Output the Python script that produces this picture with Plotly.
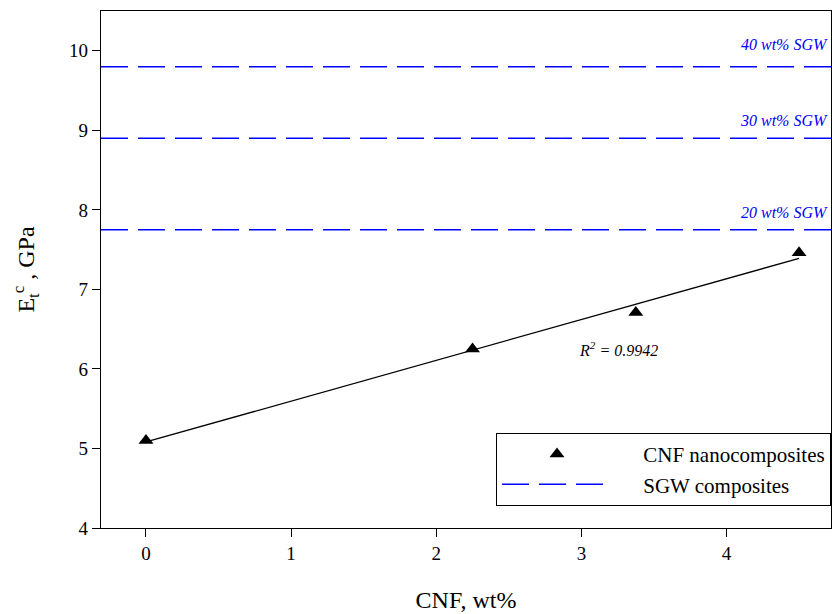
import numpy as np
import plotly.graph_objects as go

cnf_wt = [0.0, 2.25, 3.375, 4.5]
modulus_gpa = [5.1, 6.25, 6.71, 7.46]
sgw_levels = [7.75, 8.9, 9.8]
sgw_labels = ["20 wt% SGW", "30 wt% SGW", "40 wt% SGW"]
r2_text = "R<sup>2</sup> = 0.9942"
x_ticks = [0, 1, 2, 3, 4]
y_ticks = [4, 5, 6, 7, 8, 9, 10]

FONT = "Liberation Serif"
BLUE = "#0000FF"
PAD = "\u00a0" * 5

slope, intercept = np.polyfit(cnf_wt, modulus_gpa, 1)
fit_x = [min(cnf_wt), max(cnf_wt)]
fit_y = [intercept + slope * v for v in fit_x]

fig = go.Figure()

x_range = [-0.31, 4.72]
label_shift = [7, 7, 12]
for i, lvl in enumerate(sgw_levels):
    fig.add_trace(go.Scatter(
        x=x_range, y=[lvl, lvl], mode="lines",
        line=dict(color=BLUE, width=1.6, dash="27px,10px"),
        name="SGW composites", showlegend=False, hoverinfo="skip"))
    fig.add_annotation(x=1, xref="paper", y=lvl, yref="y",
                       text="<i>" + sgw_labels[i] + "</i>", showarrow=False,
                       xanchor="right", yanchor="bottom", xshift=-1, yshift=label_shift[i],
                       font=dict(family=FONT, size=16, color=BLUE))

fig.add_trace(go.Scatter(x=fit_x, y=fit_y, mode="lines",
                         line=dict(color="black", width=1.3),
                         showlegend=False, hoverinfo="skip"))

fig.add_trace(go.Scatter(x=cnf_wt, y=modulus_gpa, mode="markers",
                         marker=dict(symbol="triangle-up", size=13, color="black"),
                         name=PAD + "CNF nanocomposites"))

fig.add_trace(go.Scatter(x=[None], y=[None], mode="lines",
                         line=dict(color=BLUE, width=1.6, dash="27px,10px"),
                         name=PAD + "SGW composites"))

fig.add_annotation(x=3.255, y=6.25, text="<i>" + r2_text + "</i>", showarrow=False,
                   font=dict(family=FONT, size=16, color="black"))

axis_common = dict(showline=True, linecolor="black", linewidth=1.3, mirror=True,
                   ticks="outside", ticklen=8, tickwidth=1.3, tickcolor="black",
                   showgrid=False, zeroline=False,
                   tickfont=dict(family=FONT, size=19, color="black"))

fig.update_xaxes(range=x_range, tickvals=x_ticks,
                 title=dict(text="CNF, wt%", font=dict(family=FONT, size=24, color="black"), standoff=28),
                 **axis_common)
fig.update_yaxes(range=[4, 10.5], tickvals=y_ticks,
                 title=dict(text="E<sub>t</sub><sup>c</sup> , GPa", font=dict(family=FONT, size=24, color="black"), standoff=27),
                 **axis_common)

fig.update_layout(
    width=832, height=614,
    margin=dict(l=101, r=1, t=11, b=86),
    paper_bgcolor="white", plot_bgcolor="white",
    font=dict(family=FONT, color="black"),
    legend=dict(x=1, xanchor="right", y=0.184, yanchor="top",
                bordercolor="black", borderwidth=1, bgcolor="white",
                font=dict(family=FONT, size=21, color="black"),
                itemwidth=110, tracegroupgap=0),
)

fig.write_html("out.html", config={"displayModeBar": False},
               post_script="document.body.style.margin='0';document.body.style.overflow='hidden';")
